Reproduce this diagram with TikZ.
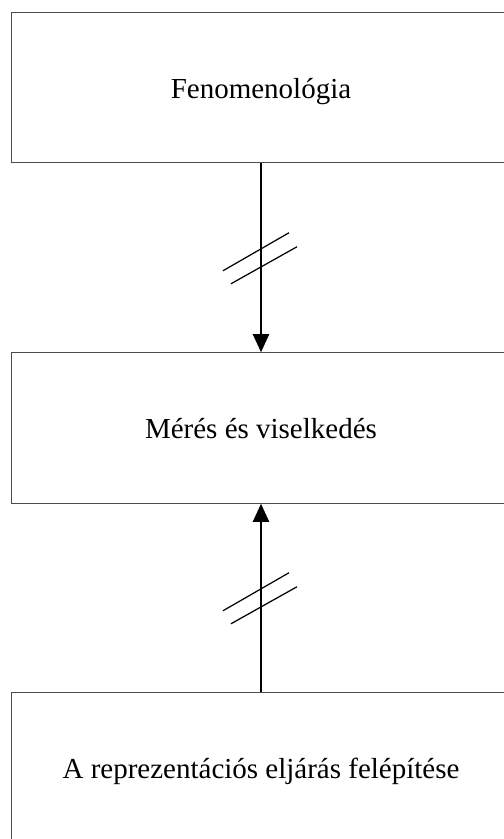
\documentclass[tikz,border=0pt]{standalone}
\usepackage{fontspec}
\setmainfont{Liberation Serif}
\usetikzlibrary{arrows.meta}
\tikzset{
  level/.style={draw=black!70, line width=0.6pt, minimum width=10cm, minimum height=3.01cm, text height=12pt, text depth=0pt, font=\fontsize{16.5}{20}\selectfont},
  link/.style={draw, line width=1.1pt, -{Triangle[length=0.36cm, width=0.32cm]}},
  brk/.style={draw, line width=0.7pt}
}
\begin{document}
\begin{tikzpicture}[x=0.02cm, y=-0.02cm]
\clip (0,0) rectangle (504,839);
\node[level] (fen) at (261,87.5) {Fenomenológia};
\node[level] (mer) at (261,428) {Mérés és viselkedés};
\node[level] (rep) at (261,767.5) {A reprezentációs eljárás felépítése};
\path[link] (fen) -- coordinate[pos=0.5] (m1) (mer);
\path[link] (rep) -- coordinate[pos=0.5] (m2) (mer);
\path[brk] ([shift={(-38,13)}]m1) -- ([shift={(28,-25)}]m1);
\path[brk] ([shift={(-30,26)}]m1) -- ([shift={(36,-11)}]m1);
\path[brk] ([shift={(-38,13)}]m2) -- ([shift={(28,-25)}]m2);
\path[brk] ([shift={(-30,26)}]m2) -- ([shift={(36,-11)}]m2);
\end{tikzpicture}
\end{document}
